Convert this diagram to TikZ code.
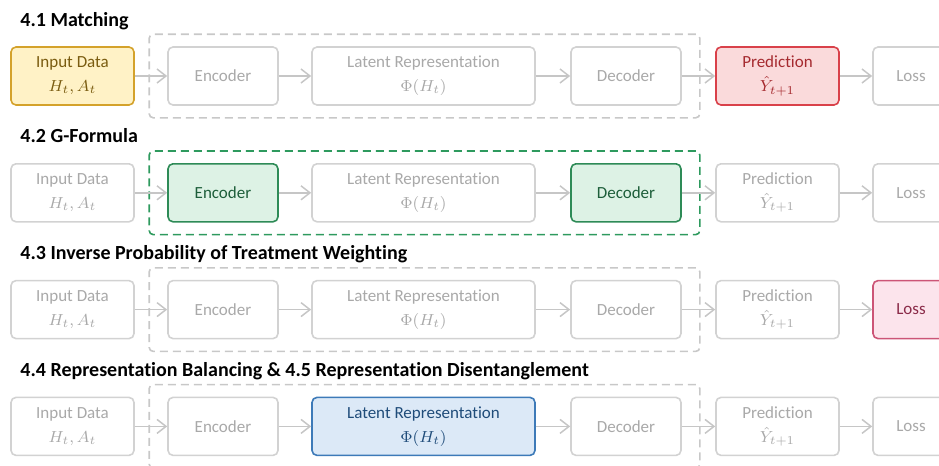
\documentclass[tikz,border=0pt]{standalone}
\usepackage{fontspec}
\setmainfont[Ligatures=NoCommon]{Carlito}
\usetikzlibrary{arrows.meta,fit}
\definecolor{grayBd}{HTML}{D2D2D2}
\definecolor{grayFl}{HTML}{FFFFFF}
\definecolor{grayTx}{HTML}{A9A9A9}
\definecolor{grayFr}{HTML}{C8C8C8}
\definecolor{yelBd} {HTML}{D4A22B}
\definecolor{yelFl} {HTML}{FFF2C6}
\definecolor{yelTx} {HTML}{7A5C10}
\definecolor{redBd} {HTML}{D9414A}
\definecolor{redFl} {HTML}{FADADB}
\definecolor{redTx} {HTML}{A52A2F}
\definecolor{grnBd} {HTML}{2E8B57}
\definecolor{grnFl} {HTML}{DDF2E5}
\definecolor{grnTx} {HTML}{1D5E3A}
\definecolor{grnFr} {HTML}{2E9A5E}
\definecolor{pnkBd} {HTML}{CC5577}
\definecolor{pnkFl} {HTML}{FCE4EC}
\definecolor{pnkTx} {HTML}{8A2A48}
\definecolor{bluBd} {HTML}{3D7AB8}
\definecolor{bluFl} {HTML}{DCE9F7}
\definecolor{bluTx} {HTML}{1F4C7A}
\definecolor{flowGray}{HTML}{C6C6C6}
\begin{document}
\begin{tikzpicture}[x=0.5pt,y=-0.5pt,
  stage/.style={draw=#1Bd, fill=#1Fl, text=#1Tx, rounded corners=2.5pt,
    line width=0.8pt, minimum height=29pt, inner sep=0pt, align=center,
    font=\fontsize{8.5}{11}\selectfont},
  block/.style={draw=#1Fr, dash pattern=on 4pt off 2.5pt, rounded corners=2pt,
    line width=0.8pt, inner xsep=9pt, inner ysep=6pt},
  flow/.style={draw=flowGray, line width=0.75pt, -{Straight Barb[length=4.5pt,width=7pt]}},
  heading/.style={anchor=base west, inner sep=0pt, font=\fontsize{10}{12}\selectfont\bfseries}]
 \useasboundingbox (0,0) rectangle (939,466);
 \clip (0,0) rectangle (939,466);
 \foreach \r/\ttl/\cIn/\cEnc/\cLat/\cDec/\cPred/\cLoss/\cFrm in {
   1/{4.1 Matching}/yel/gray/gray/gray/red/gray/gray,
   2/{4.2 G-Formula}/gray/grn/gray/grn/gray/gray/grn,
   3/{4.3 Inverse Probability of Treatment Weighting}/gray/gray/gray/gray/gray/pnk/gray,
   4/{4.4 Representation Balancing \& 4.5 Representation Disentanglement}/gray/gray/blu/gray/gray/gray/gray}{
  \pgfmathsetmacro{\yc}{76+116.8*(\r-1)}
  \node[heading] (ttl\r) at (20,\yc-50) {\ttl};
  \node[stage=\cIn, minimum width=61.5pt] (in\r) at (72.5,\yc) {Input Data\\[1pt]$H_t, A_t$};
  \node[stage=\cEnc, minimum width=55pt] (enc\r) at (223,\yc) {Encoder};
  \node[stage=\cLat, minimum width=111.5pt] (lat\r) at (423.5,\yc) {Latent Representation\\[1pt]$\Phi(H_t)$};
  \node[stage=\cDec, minimum width=55pt] (dec\r) at (626,\yc) {Decoder};
  \node[stage=\cPred, minimum width=61.5pt] (pred\r) at (777.5,\yc) {Prediction\\[1pt]$\hat{Y}_{t+1}$};
  \node[stage=\cLoss, minimum width=38pt] (loss\r) at (911,\yc) {Loss};
  \node[block=\cFrm, fit=(enc\r)(dec\r)] (grp\r) {};
  \draw[flow] (in\r) -- (enc\r);
  \draw[flow] (enc\r) -- (lat\r);
  \draw[flow] (lat\r) -- (dec\r);
  \draw[flow] (dec\r) -- (pred\r);
  \draw[flow] (pred\r) -- (loss\r);
 }
\end{tikzpicture}
\end{document}
